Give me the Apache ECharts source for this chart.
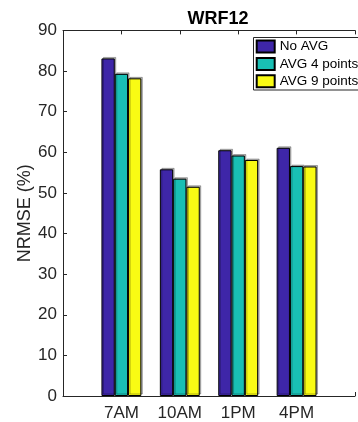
<!DOCTYPE html>
<html>
<head>
<meta charset="utf-8">
<script src="https://cdn.jsdelivr.net/npm/echarts@6/dist/echarts.min.js"></script>
<style>
html,body{margin:0;padding:0;background:#fff;}
#chart{width:358px;height:422px;}
</style>
</head>
<body>
<div id="chart"></div>
<script>
var categories = ['7AM', '10AM', '1PM', '4PM'];
var seriesNames = ['No AVG', 'AVG 4 points', 'AVG 9 points'];
var noAvg = [83.1, 55.8, 60.5, 61.1];
var avg4 = [79.3, 53.5, 59.2, 56.6];
var avg9 = [78.2, 51.5, 58.1, 56.5];
var yTicks = [0, 10, 20, 30, 40, 50, 60, 70, 80, 90];
var colors = ['#3e26a8', '#19bfb4', '#f9fb14'];

// pad categories so that the axis runs from 0 to 5 like the original
var axisCats = [''].concat(categories).concat(['']);
function pad(arr) { return ['-'].concat(arr).concat(['-']); }

var font = '"Liberation Sans", Arial, Helvetica, sans-serif';
var axisColor = '#262626';

var chart = echarts.init(document.getElementById('chart'), null, {renderer: 'canvas'});

function barSeries(name, data, color) {
  return {
    name: name,
    type: 'bar',
    data: pad(data),
    barWidth: 13.3,
    barGap: '0%',
    itemStyle: {
      color: color,
      borderColor: '#000',
      borderWidth: 1,
      shadowColor: 'rgba(0,0,0,0.28)',
      shadowOffsetX: 1.5,
      shadowOffsetY: -1.5,
      shadowBlur: 0
    },
    emphasis: {disabled: true},
    animation: false
  };
}

chart.setOption({
  animation: false,
  backgroundColor: '#fff',
  title: {
    text: 'WRF12',
    left: 213,
    top: 5,
    textAlign: 'center',
    textStyle: {fontFamily: font, fontSize: 18, fontWeight: 'bold', color: '#000'}
  },
  // legend frame (runs off the right edge, as in the original)
  graphic: [{
    type: 'rect',
    z: 50,
    silent: true,
    shape: {x: 253.5, y: 37.5, width: 130, height: 52.5},
    style: {fill: '#fff', stroke: axisColor, lineWidth: 1}
  }],
  legend: {
    data: seriesNames,
    orient: 'vertical',
    left: 253,
    top: 38,
    z: 60,
    padding: [1.5, 4, 1, 2.7],
    itemWidth: 18,
    itemHeight: 12,
    itemGap: 3.4,
    icon: 'rect',
    borderWidth: 0,
    selectedMode: false,
    textStyle: {fontFamily: font, fontSize: 13.5, color: '#000'}
  },
  grid: {left: 63, top: 30.4, right: -5, bottom: 25.6, containLabel: false},
  xAxis: [{
    type: 'category',
    data: axisCats,
    boundaryGap: false,
    axisLine: {lineStyle: {color: axisColor, width: 1}},
    axisTick: {inside: true, length: 4, lineStyle: {color: axisColor}},
    axisLabel: {fontFamily: font, fontSize: 17, color: axisColor, margin: 9},
    splitLine: {show: false}
  }, {
    type: 'category',
    data: axisCats,
    boundaryGap: false,
    position: 'top',
    axisLine: {lineStyle: {color: axisColor, width: 1}},
    axisTick: {inside: true, length: 4, lineStyle: {color: axisColor}},
    axisLabel: {show: false},
    splitLine: {show: false}
  }],
  yAxis: {
    type: 'value',
    min: yTicks[0],
    max: yTicks[yTicks.length - 1],
    interval: 10,
    name: 'NRMSE (%)',
    nameLocation: 'middle',
    nameGap: 29,
    nameMoveOverlap: false,
    nameRotate: 90,
    nameTextStyle: {fontFamily: font, fontSize: 18, color: axisColor},
    axisLine: {show: true, lineStyle: {color: axisColor, width: 1}},
    axisTick: {show: true, inside: true, length: 4, lineStyle: {color: axisColor}},
    axisLabel: {fontFamily: font, fontSize: 17, color: axisColor, margin: 6},
    splitLine: {show: false}
  },
  series: [
    barSeries(seriesNames[0], noAvg, colors[0]),
    barSeries(seriesNames[1], avg4, colors[1]),
    barSeries(seriesNames[2], avg9, colors[2])
  ]
});
</script>
</body>
</html>
